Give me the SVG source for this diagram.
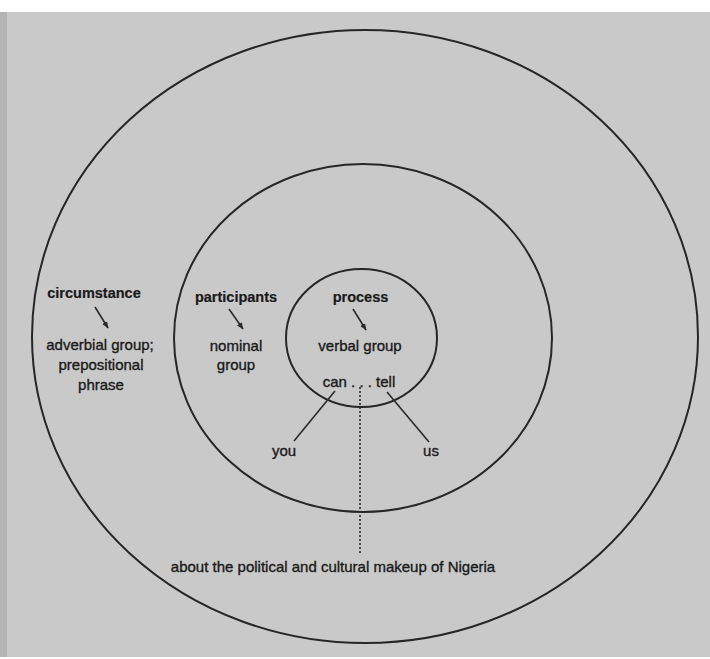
<svg xmlns="http://www.w3.org/2000/svg" width="710" height="659" viewBox="0 0 710 659">
  <defs>
    <style>
      .ring { fill: none; stroke: #262626; stroke-width: 2; }
      .line { fill: none; stroke: #2a2a2a; stroke-width: 1.6; }
      .dots { fill: none; stroke: #2a2a2a; stroke-width: 1.6; stroke-dasharray: 2 2; }
      .t { font-family: "Liberation Sans", Arial, sans-serif; font-size: 15px; fill: #1a1a1a; stroke: #1a1a1a; stroke-width: 0.35; text-anchor: middle; }
      .b { font-weight: bold; font-size: 14.5px; stroke-width: 0.2; }
    </style>
    <marker id="ah" viewBox="0 0 10 10" refX="9" refY="5" markerWidth="7" markerHeight="7" orient="auto" markerUnits="userSpaceOnUse">
      <path d="M0,1 L10,5 L0,9 z" fill="#2a2a2a"/>
    </marker>
  </defs>

  <rect x="0" y="0" width="710" height="659" fill="#c9c9c9"/>
  <rect x="0" y="0" width="7" height="659" fill="#b4b4b4"/>
  <rect x="0" y="0" width="710" height="12" fill="#ffffff"/>
  <rect x="0" y="657" width="710" height="2" fill="#ffffff"/>

  <g id="outer-circle">
    <ellipse class="ring" cx="365" cy="336.5" rx="333" ry="306.5"/>
    <text class="t b" x="94" y="298">circumstance</text>
    <text class="t" x="100" y="350">adverbial group;</text>
    <text class="t" x="101" y="370">prepositional</text>
    <text class="t" x="101" y="390">phrase</text>
  </g>

  <g id="middle-circle">
    <ellipse class="ring" cx="363" cy="338" rx="189" ry="174"/>
    <text class="t b" x="236" y="302">participants</text>
    <text class="t" x="236" y="351">nominal</text>
    <text class="t" x="236" y="370">group</text>
  </g>

  <g id="inner-circle">
    <ellipse class="ring" cx="361.5" cy="338" rx="75.5" ry="69"/>
    <text class="t b" x="360.5" y="302">process</text>
    <text class="t" x="360" y="351">verbal group</text>
    <text class="t" x="359" y="387">can . . . tell</text>
  </g>

  <g id="you">
    <text class="t" x="284" y="456">you</text>
  </g>
  <g id="us">
    <text class="t" x="431" y="456">us</text>
  </g>
  <g id="circumstance-phrase">
    <text class="t" x="333" y="572">about the political and cultural makeup of Nigeria</text>
  </g>

  <g id="connectors">
    <line class="line" x1="95" y1="307" x2="108" y2="328" marker-end="url(#ah)"/>
    <line class="line" x1="229" y1="309" x2="243" y2="329" marker-end="url(#ah)"/>
    <line class="line" x1="353" y1="309" x2="366" y2="330" marker-end="url(#ah)"/>
    <line class="line" x1="335" y1="391" x2="294" y2="441"/>
    <line class="line" x1="387" y1="392" x2="429" y2="442"/>
    <line class="dots" x1="360" y1="387" x2="360" y2="553"/>
  </g>
</svg>
